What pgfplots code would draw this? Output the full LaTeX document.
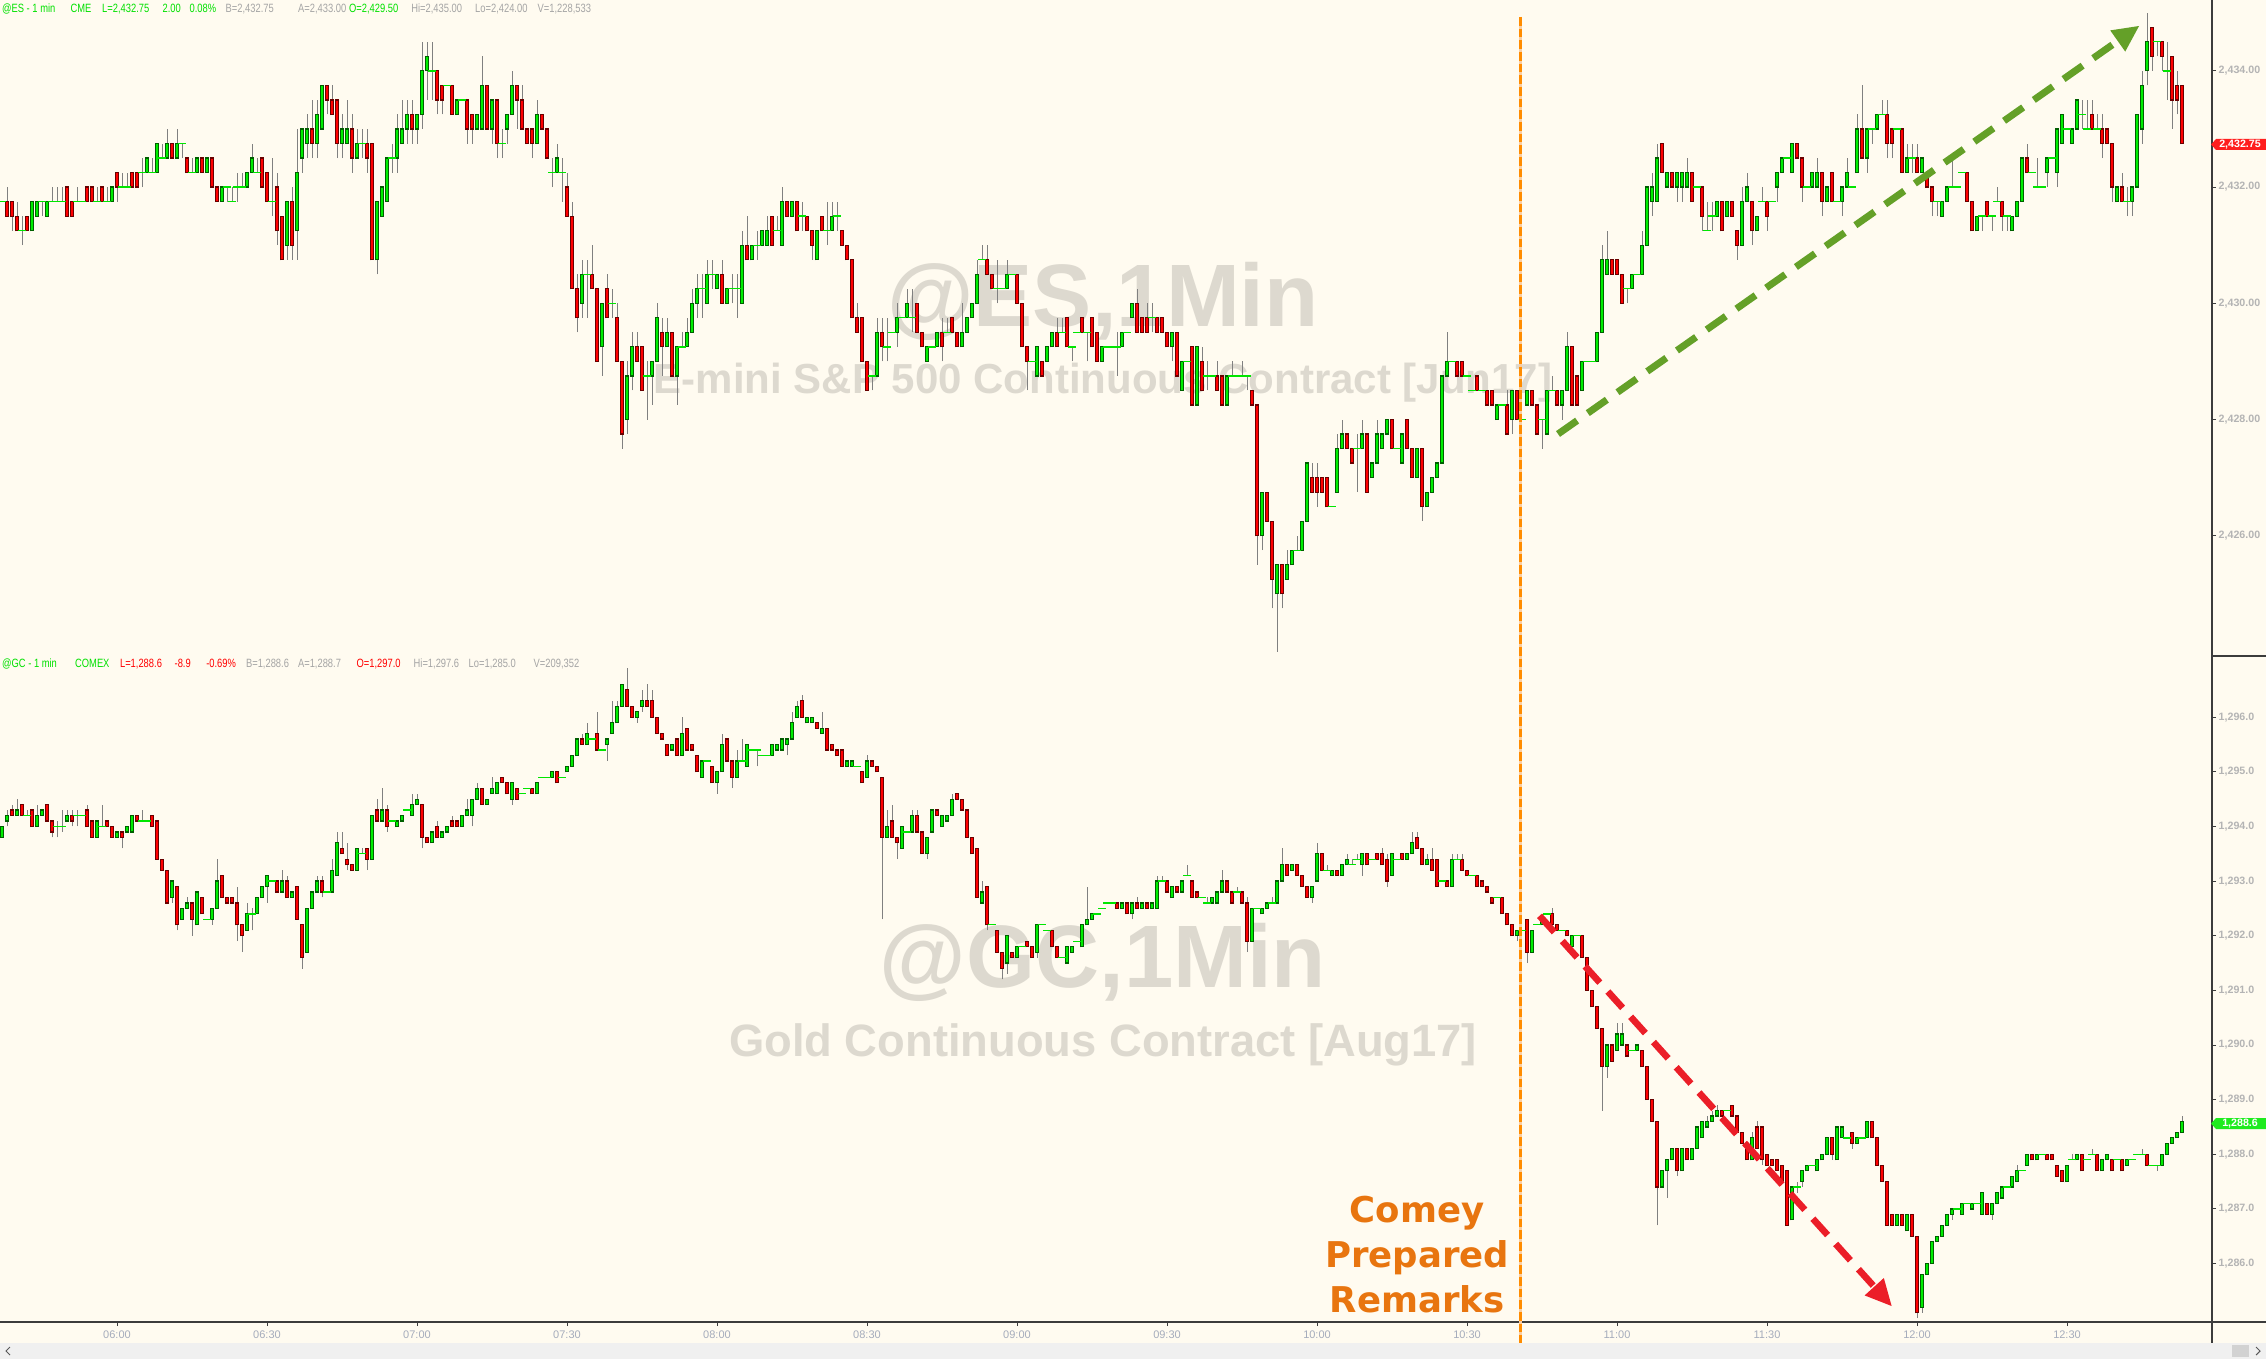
\documentclass[border=0pt]{standalone}
\usepackage{pgfplots}
\pgfplotsset{compat=1.18}
\usepackage{pgfplotstable}
\usepackage{fontspec}
\setmainfont{Liberation Sans}
\newfontfamily\djv{DejaVu Sans}
\definecolor{bg}{RGB}{255,251,240}
\definecolor{upf}{RGB}{0,238,0}
\definecolor{upe}{RGB}{0,95,0}
\definecolor{dnf}{RGB}{255,0,0}
\definecolor{dne}{RGB}{105,0,0}
\definecolor{wick}{RGB}{128,128,128}
\definecolor{doji}{RGB}{0,230,0}
\definecolor{wm}{RGB}{221,217,207}
\definecolor{hg}{RGB}{0,225,0}
\definecolor{hx}{RGB}{165,165,165}
\definecolor{hr}{RGB}{255,0,0}
\definecolor{axl}{RGB}{60,60,60}
\definecolor{tkl}{RGB}{165,172,188}
\definecolor{ytl}{RGB}{180,180,180}
\definecolor{comey}{RGB}{232,117,15}
\definecolor{vline}{RGB}{255,140,0}
\definecolor{vlight}{RGB}{250,205,160}
\definecolor{garrow}{RGB}{100,160,40}
\definecolor{rarrow}{RGB}{235,30,40}
\definecolor{pbr}{RGB}{255,30,30}
\definecolor{pbg}{RGB}{30,235,30}

\pgfplotstableread{
o h l c
2431.75 2431.75 2431.75 2431.75
2431.75 2432 2431.5 2431.5
2431.75 2431.75 2431.25 2431.5
2431.5 2431.75 2431.25 2431.25
2431.25 2431.5 2431 2431.25
2431.5 2431.5 2431.25 2431.25
2431.25 2431.75 2431.25 2431.75
2431.5 2431.75 2431.5 2431.75
2431.75 2431.75 2431.5 2431.75
2431.5 2431.75 2431.5 2431.75
2431.75 2432 2431.75 2431.75
2431.75 2432 2431.75 2431.75
2431.75 2432 2431.75 2431.75
2432 2432 2431.5 2431.5
2431.75 2431.75 2431.5 2431.5
2431.75 2432 2431.75 2431.75
2431.75 2431.75 2431.75 2431.75
2432 2432 2431.75 2431.75
2432 2432 2431.75 2431.75
2431.75 2432 2431.75 2431.75
2432 2432 2431.75 2431.75
2431.75 2432 2431.75 2431.75
2431.75 2432 2431.75 2432
2432.25 2432.25 2431.75 2432
2432 2432.25 2432 2432
2432 2432.25 2432 2432
2432.25 2432.25 2432 2432
2432.25 2432.25 2432 2432
2432.25 2432.5 2432 2432.25
2432.25 2432.5 2432.25 2432.5
2432.25 2432.5 2432.25 2432.25
2432.25 2432.75 2432.25 2432.75
2432.5 2432.75 2432.5 2432.5
2432.5 2433 2432.5 2432.75
2432.75 2432.75 2432.5 2432.5
2432.5 2433 2432.5 2432.75
2432.75 2432.75 2432.5 2432.75
2432.5 2432.5 2432.25 2432.25
2432.25 2432.5 2432.25 2432.25
2432.25 2432.5 2432.25 2432.5
2432.5 2432.5 2432.25 2432.25
2432.25 2432.5 2432.25 2432.5
2432.5 2432.5 2432 2432
2432 2432 2431.75 2431.75
2431.75 2432 2431.75 2432
2432 2432 2431.75 2432
2431.75 2432 2431.75 2431.75
2432 2432.25 2431.75 2432
2432 2432.25 2432 2432
2432 2432.25 2432 2432.25
2432.25 2432.75 2432.25 2432.5
2432.25 2432.5 2432.25 2432.25
2432.5 2432.5 2432 2432
2432.25 2432.25 2431.75 2431.75
2431.75 2432.5 2431.5 2431.75
2432 2432.25 2431 2431.25
2431.5 2431.5 2430.75 2430.75
2431 2431.75 2430.75 2431.75
2431.75 2432 2430.75 2431
2431.25 2433 2430.75 2432.25
2432.5 2433 2432.25 2433
2432.75 2433.25 2432.5 2433
2433 2433.5 2432.5 2432.75
2432.75 2433.5 2432.5 2433.25
2433 2433.75 2433 2433.75
2433.75 2433.75 2433.25 2433.5
2433.5 2433.75 2433.25 2433.25
2433.5 2433.5 2432.5 2432.75
2432.75 2433.25 2432.5 2433
2432.75 2433.5 2432.75 2433
2433 2433.25 2432.25 2432.5
2432.5 2433 2432.5 2432.75
2432.75 2433 2432.5 2432.75
2432.75 2433 2432.25 2432.5
2432.75 2432.75 2430.75 2430.75
2430.75 2431.75 2430.5 2431.75
2431.5 2432 2431.5 2432
2431.75 2432.5 2431.75 2432.5
2432.5 2432.75 2432.25 2432.5
2432.5 2433.25 2432.25 2433
2432.75 2433.5 2432.75 2433
2433 2433.5 2432.75 2433.25
2433.25 2433.5 2432.75 2433
2433 2433.25 2432.75 2433.25
2433.25 2434.5 2433 2434
2434 2434.5 2433.5 2434.25
2434 2434.5 2433.5 2434
2434 2434 2433.25 2433.5
2433.75 2433.75 2433.25 2433.5
2433.75 2433.75 2433.75 2433.75
2433.75 2433.75 2433.25 2433.25
2433.25 2433.5 2433.25 2433.5
2433.5 2433.5 2433.5 2433.5
2433.5 2433.5 2432.75 2433
2433.25 2433.25 2432.75 2433
2433 2433.25 2433 2433.25
2433 2434.25 2433 2433.75
2433.75 2433.75 2433 2433
2433 2433.5 2432.75 2433.5
2433.5 2433.5 2432.5 2432.75
2432.75 2433 2432.5 2432.75
2433 2433.25 2432.75 2433.25
2433.25 2434 2433.25 2433.75
2433.75 2433.75 2433 2433.5
2433.5 2433.75 2433 2433
2433 2433 2432.75 2432.75
2433 2433 2432.5 2432.75
2432.75 2433.5 2432.75 2433.25
2433.25 2433.25 2433 2433
2433 2433 2432.5 2432.5
2432.25 2432.5 2432 2432.25
2432.25 2432.75 2432.25 2432.5
2432.25 2432.5 2431.75 2432.25
2432 2432.25 2431.5 2431.5
2431.5 2431.75 2430.25 2430.25
2430.25 2430.5 2429.5 2429.75
2430 2430.75 2429.75 2430.5
2430.5 2430.75 2429.75 2430.5
2430.5 2431 2430.25 2430.25
2430.25 2430.25 2429 2429
2429.25 2430 2428.75 2430
2430.25 2430.5 2429.75 2429.75
2430 2430.25 2429.75 2430
2429.75 2430 2429 2429
2429 2429 2427.5 2427.75
2428 2429 2427.75 2428.75
2428.75 2429.5 2428.5 2429.25
2429.25 2429.5 2429 2429
2429.25 2429.25 2428.5 2428.5
2428.75 2429 2428 2428.75
2428.75 2429 2428.25 2429
2429 2430 2429 2429.75
2429.5 2429.75 2428.75 2429.25
2429.25 2429.75 2429.25 2429.5
2429.5 2429.5 2428.75 2428.75
2428.75 2429.25 2428.25 2429.25
2429.25 2429.5 2429.25 2429.25
2429.25 2429.75 2429.25 2429.5
2429.5 2430.25 2429.5 2430
2430 2430.5 2429.75 2430.25
2430.25 2430.5 2429.75 2430.25
2430 2430.75 2430 2430.5
2430.5 2430.75 2430.25 2430.5
2430.25 2430.5 2430.25 2430.5
2430.5 2430.75 2430 2430
2430 2430.25 2430 2430.25
2430.25 2430.5 2430 2430.25
2430.25 2430.5 2429.75 2430.25
2430 2431.25 2430 2431
2431 2431.5 2430.75 2430.75
2430.75 2431 2430.75 2431
2431 2431.25 2430.75 2431
2431 2431.25 2431 2431.25
2431 2431.5 2431 2431.25
2431.5 2431.5 2431 2431
2431.25 2431.5 2431.25 2431.25
2431 2432 2431 2431.75
2431.75 2431.75 2431.5 2431.5
2431.5 2431.75 2431.5 2431.75
2431.75 2431.75 2431.25 2431.25
2431.5 2431.75 2431.25 2431.5
2431.5 2431.5 2431.25 2431.25
2431.25 2431.25 2430.75 2431
2430.75 2431.25 2430.75 2431.25
2431.5 2431.5 2431.25 2431.25
2431.25 2431.75 2431 2431.25
2431.25 2431.75 2431.25 2431.5
2431.5 2431.75 2431.25 2431.5
2431.25 2431.25 2431 2431
2431 2431 2430.75 2430.75
2430.75 2430.75 2429.75 2429.75
2429.75 2430 2429.5 2429.5
2429.75 2429.75 2429 2429
2429 2429 2428.5 2428.5
2428.75 2428.75 2428.5 2428.75
2428.75 2429.75 2428.75 2429.5
2429.5 2429.75 2429 2429.25
2429.25 2429.75 2429 2429.25
2429.5 2429.5 2429.5 2429.5
2429.5 2430 2429.25 2429.75
2429.75 2429.75 2429.75 2429.75
2429.75 2430.25 2429.75 2430
2429.75 2430.25 2429.5 2429.75
2430 2430 2429.5 2429.5
2429.5 2429.5 2429.25 2429.25
2429 2429.25 2429 2429.25
2429.25 2429.25 2429.25 2429.25
2429.25 2429.5 2429.25 2429.5
2429.5 2429.75 2429 2429.25
2429.5 2429.75 2429.5 2429.5
2429.75 2429.75 2429.5 2429.5
2429.5 2429.5 2429.25 2429.25
2429.25 2430 2429.25 2429.5
2429.5 2429.75 2429.5 2429.75
2429.75 2430 2429.75 2430
2430 2430.75 2430 2430.5
2430.75 2431 2430.75 2430.75
2430.75 2431 2430.5 2430.5
2430.5 2430.5 2430.25 2430.25
2430.25 2430.75 2430 2430.25
2430.25 2430.25 2430.25 2430.25
2430.25 2430.75 2430.25 2430.5
2430.5 2430.5 2430.5 2430.5
2430.5 2430.5 2430 2430
2430 2430 2429.25 2429.25
2429.25 2429.25 2428.5 2429
2429 2429 2429 2429
2428.75 2429.25 2428.75 2429.25
2429 2429 2428.75 2428.75
2429 2429.25 2429 2429.25
2429.25 2429.5 2429.25 2429.5
2429.5 2429.75 2429.25 2429.25
2429.5 2429.75 2429.5 2429.5
2429.75 2429.75 2429.25 2429.25
2429.25 2429.25 2429 2429.25
2429.5 2429.5 2429.5 2429.5
2429.75 2429.75 2429.5 2429.5
2429.5 2429.5 2429 2429.5
2429.75 2429.75 2429.25 2429.25
2429.5 2429.5 2429 2429
2429 2429.25 2429 2429.25
2429.25 2429.25 2429.25 2429.25
2429.25 2429.25 2429.25 2429.25
2429.25 2429.5 2428.75 2429.25
2429.25 2429.5 2429.25 2429.5
2429.5 2429.5 2429.5 2429.5
2429.75 2430 2429.75 2430
2430 2430.25 2429.5 2429.5
2429.75 2429.75 2429.5 2429.5
2429.75 2430 2429.5 2429.5
2429.75 2430 2429.5 2429.75
2429.75 2429.75 2429.5 2429.5
2429.75 2429.75 2429.5 2429.5
2429.5 2429.5 2429.25 2429.25
2429.25 2429.5 2429 2429.5
2429.5 2429.5 2428.75 2428.75
2428.5 2429 2428.5 2429
2429 2429 2429 2429
2429.25 2429.25 2428.25 2428.25
2428.25 2429.25 2428.25 2429.25
2429 2429.25 2428.5 2428.5
2428.75 2429 2428.5 2428.75
2428.75 2428.75 2428.75 2428.75
2428.75 2429 2428.5 2428.5
2428.75 2428.75 2428.25 2428.25
2428.25 2428.75 2428.25 2428.75
2428.75 2429 2428.75 2428.75
2428.75 2428.75 2428.75 2428.75
2428.75 2429 2428.75 2428.75
2428.75 2428.75 2428.5 2428.75
2428.5 2428.5 2428.25 2428.25
2428.25 2428.25 2425.5 2426
2426 2426.75 2425.75 2426.75
2426.75 2426.75 2426.25 2426.25
2426.25 2426.25 2424.75 2425.25
2425 2425.5 2424 2425.5
2425.5 2425.5 2424.75 2425
2425.25 2425.75 2425.25 2425.5
2425.5 2425.75 2425.5 2425.75
2425.75 2426 2425.75 2425.75
2425.75 2426.25 2425.75 2426.25
2426.25 2427.25 2426.25 2427.25
2427 2427.25 2426.75 2426.75
2427 2427.25 2426.5 2426.75
2427 2427 2426.75 2426.75
2427 2427 2426.5 2426.5
2426.5 2426.5 2426.5 2426.5
2426.75 2427.75 2426.75 2427.5
2427.5 2428 2427.5 2427.75
2427.75 2427.75 2427.5 2427.5
2427.5 2427.5 2427.25 2427.25
2427.5 2427.75 2426.75 2427.5
2427.5 2428 2427.5 2427.75
2427.75 2427.75 2426.75 2426.75
2427 2427.25 2427 2427.25
2427.25 2428 2427.25 2427.75
2427.5 2427.75 2427.5 2427.75
2427.75 2428 2427.75 2428
2428 2428 2427.5 2427.5
2427.5 2427.5 2427.5 2427.5
2427.25 2427.75 2427.25 2427.75
2428 2428 2427.5 2427.5
2427.5 2427.5 2427 2427
2427 2427.5 2427 2427.5
2427.5 2427.5 2426.25 2426.5
2426.5 2426.75 2426.5 2426.75
2426.75 2427 2426.75 2427
2427 2427.25 2427 2427.25
2427.25 2428.75 2427.25 2428.75
2428.75 2429.5 2428.75 2429
2429 2429 2429 2429
2429 2429 2428.75 2428.75
2429 2429 2428.75 2428.75
2428.75 2428.75 2428.75 2428.75
2428.5 2428.5 2428.5 2428.5
2428.75 2428.75 2428.5 2428.5
2428.5 2428.5 2428.5 2428.5
2428.5 2428.5 2428.25 2428.25
2428.5 2428.5 2428.25 2428.25
2428 2428.25 2428 2428.25
2428.25 2428.25 2428.25 2428.25
2428.25 2428.5 2427.75 2427.75
2428 2428.5 2427.75 2428.5
2428.5 2428.5 2428 2428
2428 2428 2428 2428
2428.25 2428.5 2428.25 2428.5
2428.5 2428.5 2428.25 2428.25
2428.25 2428.25 2427.75 2427.75
2428 2428 2427.5 2428
2427.75 2428.5 2427.75 2428.5
2428.5 2428.75 2428.5 2428.5
2428.5 2428.5 2428.25 2428.25
2428.25 2428.5 2428 2428.5
2428.5 2429.5 2428.5 2429.25
2429.25 2429.25 2428.25 2428.25
2428.75 2428.75 2428.25 2428.25
2428.5 2429 2428.5 2429
2429 2429 2429 2429
2429 2429 2429 2429
2429 2429.5 2429 2429.5
2429.5 2431 2429.5 2430.75
2430.5 2431.25 2430.5 2430.75
2430.75 2430.75 2430.5 2430.5
2430.75 2430.75 2430.5 2430.5
2430.5 2430.5 2430 2430
2430.25 2430.25 2430 2430.25
2430.25 2430.5 2430.25 2430.5
2430.5 2430.5 2430.5 2430.5
2430.5 2431.25 2430.5 2431
2431 2432 2431 2432
2431.75 2432.25 2431.5 2432
2431.75 2432.75 2431.75 2432.5
2432.75 2432.75 2432.25 2432.25
2432 2432.25 2432 2432.25
2432.25 2432.25 2432 2432
2432 2432.25 2431.75 2432.25
2432 2432.25 2431.75 2432.25
2432 2432.5 2432 2432.25
2432.25 2432.25 2431.75 2431.75
2432 2432 2432 2432
2432 2432 2431.25 2431.5
2431.25 2431.75 2431.25 2431.25
2431.5 2431.75 2431.25 2431.5
2431.5 2431.75 2431.5 2431.75
2431.75 2431.75 2431.25 2431.25
2431.5 2431.75 2431.5 2431.75
2431.75 2431.75 2431.5 2431.5
2431.25 2431.25 2430.75 2431
2431 2432 2431 2431.75
2431.75 2432.25 2431.75 2432
2431.75 2431.75 2431 2431.25
2431.25 2431.5 2431.25 2431.5
2431.75 2432 2431.75 2431.75
2431.75 2431.75 2431.25 2431.5
2431.75 2431.75 2431.75 2431.75
2432 2432.25 2431.75 2432.25
2432.25 2432.5 2432.25 2432.5
2432.5 2432.5 2432.5 2432.5
2432.25 2432.75 2432.25 2432.75
2432.75 2432.75 2432.5 2432.5
2432.5 2432.5 2431.75 2432
2432 2432 2432 2432
2432 2432.25 2432 2432.25
2432 2432.5 2432 2432.25
2432.25 2432.25 2431.5 2431.75
2431.75 2432 2431.75 2432
2432.25 2432.25 2431.75 2431.75
2431.75 2431.75 2431.75 2431.75
2431.75 2432 2431.5 2432
2432 2432.5 2432 2432.25
2432 2432 2432 2432
2432.25 2433.25 2432.25 2433
2433 2433.75 2432.5 2432.5
2432.5 2433 2432.25 2433
2433 2433 2432.75 2433
2433 2433.25 2433 2433.25
2433.25 2433.5 2433.25 2433.25
2433.25 2433.5 2432.5 2432.75
2433 2433 2432.5 2432.75
2433 2433 2433 2433
2433 2433 2432.25 2432.25
2432.25 2432.75 2432.25 2432.5
2432.5 2432.75 2432.25 2432.5
2432.5 2432.75 2432.25 2432.25
2432.25 2432.5 2432.25 2432.5
2432.25 2432.25 2432 2432
2432 2432 2431.5 2431.75
2431.75 2431.75 2431.5 2431.75
2431.5 2431.75 2431.5 2431.75
2431.75 2432 2431.75 2432
2432 2432.5 2432 2432
2432 2432 2432 2432
2432.25 2432.25 2432.25 2432.25
2432.25 2432.25 2431.75 2431.75
2431.75 2431.75 2431.25 2431.25
2431.25 2431.5 2431.25 2431.5
2431.5 2431.5 2431.25 2431.5
2431.75 2431.75 2431.5 2431.5
2431.5 2431.5 2431.25 2431.5
2431.75 2432 2431.75 2431.75
2431.75 2431.75 2431.25 2431.5
2431.5 2431.5 2431.25 2431.5
2431.25 2431.5 2431.25 2431.5
2431.5 2431.75 2431.5 2431.75
2431.75 2432.5 2431.75 2432.5
2432.5 2432.75 2432.25 2432.25
2432.25 2432.25 2432.25 2432.25
2432 2432.5 2432 2432
2432 2432 2432 2432
2432.25 2432.5 2432 2432.5
2432.5 2432.5 2432.5 2432.5
2432.25 2433 2432 2433
2432.75 2433.25 2432.75 2433.25
2433 2433 2433 2433
2432.75 2433 2432.75 2433
2433 2433.5 2433 2433.5
2433.25 2433.5 2433 2433.25
2433 2433.5 2433 2433
2433.25 2433.5 2433 2433
2433 2433.25 2433 2433
2433 2433.25 2432.5 2432.75
2433 2433 2432.75 2432.75
2432.75 2432.75 2431.75 2432
2431.75 2432 2431.75 2432
2432 2432.25 2431.75 2431.75
2431.75 2432 2431.5 2431.75
2431.75 2432 2431.5 2432
2432 2433.25 2432 2433.25
2433 2434 2432.75 2433.75
2434 2435 2433.75 2434.5
2434.75 2434.75 2434 2434.25
2434.5 2434.5 2434.25 2434.5
2434.5 2434.5 2434 2434.25
2434 2434.5 2433.5 2434
2434.25 2434.25 2433 2433.5
2433.75 2434 2433.25 2433.5
2433.75 2433.75 2432.75 2432.75
}\esdata

\pgfplotstableread{
o h l c
1293.8 1294.0 1293.8 1294.0
1294.1 1294.3 1294.0 1294.2
1294.3 1294.4 1294.2 1294.2
1294.2 1294.5 1294.2 1294.3
1294.4 1294.4 1294.2 1294.2
1294.2 1294.3 1294.2 1294.2
1294.3 1294.3 1294.0 1294.0
1294.0 1294.4 1294.0 1294.2
1294.2 1294.3 1294.2 1294.3
1294.4 1294.4 1294.1 1294.1
1294.1 1294.1 1293.8 1293.9
1294.0 1294.1 1293.8 1294.0
1294.0 1294.3 1293.9 1294.0
1294.1 1294.3 1294.1 1294.2
1294.2 1294.3 1294.0 1294.1
1294.2 1294.3 1294.0 1294.2
1294.2 1294.2 1294.2 1294.2
1294.3 1294.4 1294.0 1294.0
1294.1 1294.1 1293.8 1293.8
1293.8 1294.1 1293.8 1294.1
1294.0 1294.4 1294.0 1294.0
1294.1 1294.1 1294.0 1294.0
1294.0 1294.0 1293.8 1293.8
1293.8 1293.9 1293.8 1293.9
1293.9 1293.9 1293.6 1293.8
1293.9 1294.0 1293.9 1294.0
1293.9 1294.2 1293.9 1294.2
1294.2 1294.2 1294.1 1294.1
1294.1 1294.3 1294.1 1294.1
1294.1 1294.1 1294.1 1294.1
1294.2 1294.2 1294.0 1294.0
1294.1 1294.1 1293.4 1293.4
1293.4 1293.4 1293.2 1293.2
1293.2 1293.2 1292.6 1292.6
1292.7 1293.0 1292.6 1293.0
1292.9 1292.9 1292.1 1292.2
1292.3 1292.5 1292.3 1292.5
1292.5 1292.7 1292.5 1292.6
1292.6 1292.6 1292.0 1292.3
1292.2 1292.8 1292.2 1292.8
1292.7 1292.7 1292.4 1292.4
1292.3 1292.3 1292.3 1292.3
1292.3 1292.5 1292.2 1292.5
1292.5 1293.4 1292.5 1293.0
1293.1 1293.1 1292.7 1292.7
1292.7 1292.7 1292.6 1292.6
1292.7 1292.7 1292.6 1292.6
1292.6 1292.9 1291.9 1292.2
1292.2 1292.2 1291.7 1292.0
1292.1 1292.6 1292.1 1292.4
1292.4 1292.5 1292.1 1292.4
1292.4 1292.7 1292.4 1292.7
1292.7 1292.9 1292.7 1292.9
1292.9 1293.1 1292.6 1293.1
1293.0 1293.0 1293.0 1293.0
1293.0 1293.0 1292.8 1292.8
1292.8 1293.2 1292.8 1293.0
1293.0 1293.1 1292.7 1292.7
1292.7 1292.8 1292.7 1292.8
1292.9 1292.9 1292.3 1292.3
1292.2 1292.2 1291.4 1291.6
1291.7 1292.5 1291.7 1292.5
1292.5 1292.8 1292.5 1292.8
1292.8 1293.1 1292.8 1293.0
1293.0 1293.1 1292.7 1292.8
1292.8 1292.8 1292.8 1292.8
1292.8 1293.4 1292.8 1293.2
1293.1 1293.9 1293.1 1293.7
1293.6 1293.9 1293.5 1293.5
1293.4 1293.7 1293.2 1293.3
1293.3 1293.3 1293.2 1293.2
1293.2 1293.6 1293.2 1293.6
1293.5 1293.6 1293.5 1293.5
1293.6 1293.6 1293.2 1293.4
1293.4 1294.2 1293.4 1294.2
1294.3 1294.5 1294.1 1294.1
1294.1 1294.7 1294.1 1294.3
1294.3 1294.4 1293.9 1294.0
1294.1 1294.1 1294.1 1294.1
1294.0 1294.1 1294.0 1294.1
1294.1 1294.2 1294.1 1294.2
1294.3 1294.3 1294.3 1294.3
1294.2 1294.6 1294.2 1294.4
1294.4 1294.6 1294.4 1294.5
1294.4 1294.4 1293.6 1293.8
1293.8 1293.8 1293.7 1293.7
1293.7 1293.9 1293.7 1293.9
1294.0 1294.1 1293.8 1293.8
1293.8 1293.9 1293.8 1293.9
1293.9 1294.0 1293.9 1294.0
1294.1 1294.2 1294.0 1294.0
1294.1 1294.1 1294.0 1294.0
1294.0 1294.2 1294.0 1294.2
1294.2 1294.5 1294.2 1294.3
1294.2 1294.5 1294.0 1294.5
1294.5 1294.8 1294.5 1294.7
1294.7 1294.7 1294.4 1294.4
1294.4 1294.5 1294.4 1294.5
1294.6 1294.9 1294.6 1294.7
1294.6 1294.8 1294.6 1294.8
1294.9 1294.9 1294.8 1294.8
1294.8 1294.8 1294.6 1294.6
1294.5 1294.8 1294.4 1294.8
1294.7 1294.7 1294.5 1294.5
1294.6 1294.6 1294.6 1294.6
1294.7 1294.7 1294.7 1294.7
1294.7 1294.7 1294.6 1294.6
1294.6 1294.8 1294.6 1294.8
1294.9 1294.9 1294.9 1294.9
1294.9 1294.9 1294.9 1294.9
1294.9 1295.0 1294.9 1295.0
1295.0 1295.0 1294.8 1294.8
1294.9 1294.9 1294.9 1294.9
1295.0 1295.1 1295.0 1295.1
1295.1 1295.3 1295.1 1295.3
1295.3 1295.6 1295.3 1295.6
1295.6 1295.7 1295.5 1295.5
1295.5 1295.9 1295.5 1295.7
1295.6 1295.6 1295.6 1295.6
1295.7 1296.1 1295.4 1295.4
1295.4 1295.4 1295.4 1295.4
1295.5 1295.6 1295.2 1295.6
1295.7 1296.3 1295.7 1295.9
1295.9 1296.3 1295.9 1296.2
1296.2 1296.6 1296.2 1296.6
1296.5 1296.9 1296.2 1296.2
1296.2 1296.2 1296.0 1296.0
1296.0 1296.1 1295.9 1296.1
1296.2 1296.5 1296.1 1296.3
1296.3 1296.6 1296.2 1296.2
1296.3 1296.5 1296.0 1296.0
1296.0 1296.0 1295.7 1295.7
1295.7 1295.7 1295.6 1295.6
1295.5 1295.5 1295.3 1295.3
1295.4 1295.5 1295.4 1295.5
1295.6 1295.6 1295.3 1295.3
1295.3 1296.0 1295.3 1295.7
1295.8 1295.8 1295.4 1295.4
1295.5 1295.5 1295.4 1295.4
1295.3 1295.3 1295.0 1295.0
1294.9 1295.2 1294.9 1295.2
1295.2 1295.2 1295.2 1295.2
1295.1 1295.1 1294.8 1294.8
1294.8 1295.0 1294.6 1295.0
1295.0 1295.7 1295.0 1295.5
1295.6 1295.6 1295.2 1295.2
1295.2 1295.2 1294.7 1294.9
1294.9 1295.4 1294.9 1295.2
1295.2 1295.6 1295.2 1295.2
1295.1 1295.5 1295.1 1295.5
1295.4 1295.4 1295.4 1295.4
1295.4 1295.4 1295.1 1295.4
1295.3 1295.3 1295.3 1295.3
1295.3 1295.3 1295.3 1295.3
1295.3 1295.5 1295.3 1295.5
1295.4 1295.5 1295.4 1295.5
1295.4 1295.6 1295.4 1295.6
1295.5 1295.6 1295.3 1295.6
1295.6 1296.1 1295.6 1295.9
1296.0 1296.3 1296.0 1296.2
1296.3 1296.4 1296.0 1296.0
1295.9 1296.0 1295.9 1296.0
1295.9 1296.0 1295.9 1296.0
1295.9 1295.9 1295.8 1295.8
1295.7 1296.1 1295.7 1295.8
1295.8 1295.8 1295.4 1295.4
1295.5 1295.5 1295.4 1295.4
1295.4 1295.4 1295.3 1295.3
1295.4 1295.4 1295.1 1295.1
1295.1 1295.2 1295.1 1295.2
1295.1 1295.2 1295.1 1295.2
1295.1 1295.1 1295.1 1295.1
1295.0 1295.0 1294.8 1294.8
1294.9 1295.3 1294.9 1295.2
1295.2 1295.2 1295.1 1295.1
1295.1 1295.1 1295.0 1295.0
1294.9 1294.9 1292.3 1293.8
1293.8 1294.3 1293.8 1294.0
1294.1 1294.4 1293.8 1293.8
1293.8 1293.8 1293.4 1293.7
1293.6 1294.0 1293.6 1294.0
1293.9 1293.9 1293.9 1293.9
1293.9 1294.3 1293.9 1294.2
1294.2 1294.3 1293.9 1293.9
1293.9 1293.9 1293.5 1293.5
1293.5 1293.8 1293.4 1293.8
1293.9 1294.3 1293.9 1294.3
1294.3 1294.3 1294.2 1294.2
1294.0 1294.2 1294.0 1294.2
1294.1 1294.2 1294.1 1294.2
1294.2 1294.6 1294.2 1294.5
1294.6 1294.6 1294.5 1294.5
1294.5 1294.5 1294.3 1294.3
1294.3 1294.3 1293.8 1293.8
1293.8 1293.8 1293.5 1293.5
1293.6 1293.6 1292.7 1292.7
1292.6 1293.0 1292.6 1292.8
1292.9 1292.9 1292.1 1292.2
1292.2 1292.2 1292.2 1292.2
1292.1 1292.1 1291.7 1291.7
1291.7 1291.7 1291.2 1291.4
1291.5 1292.0 1291.3 1292.0
1291.7 1291.7 1291.6 1291.6
1291.6 1291.8 1291.6 1291.8
1291.8 1291.8 1291.8 1291.8
1291.9 1291.9 1291.8 1291.8
1291.8 1291.8 1291.6 1291.6
1291.7 1292.2 1291.6 1292.2
1292.2 1292.2 1292.2 1292.2
1292.1 1292.1 1292.1 1292.1
1292.1 1292.1 1291.8 1291.8
1291.8 1291.8 1291.6 1291.6
1291.6 1291.6 1291.6 1291.6
1291.5 1291.8 1291.5 1291.8
1291.7 1291.8 1291.7 1291.8
1291.9 1291.9 1291.9 1291.9
1291.8 1292.2 1291.8 1292.2
1292.2 1292.9 1292.2 1292.3
1292.3 1292.4 1292.3 1292.4
1292.4 1292.4 1292.4 1292.4
1292.5 1292.5 1292.5 1292.5
1292.6 1292.6 1292.6 1292.6
1292.6 1292.6 1292.6 1292.6
1292.6 1292.6 1292.5 1292.5
1292.5 1292.6 1292.5 1292.6
1292.6 1292.6 1292.4 1292.4
1292.4 1292.6 1292.3 1292.6
1292.6 1292.7 1292.5 1292.5
1292.5 1292.6 1292.5 1292.6
1292.6 1292.6 1292.5 1292.5
1292.5 1292.6 1292.5 1292.6
1292.5 1293.1 1292.5 1293.0
1293.0 1293.1 1293.0 1293.0
1293.0 1293.0 1292.8 1292.8
1292.7 1292.9 1292.7 1292.9
1292.9 1292.9 1292.8 1292.8
1292.8 1293.0 1292.8 1293.0
1293.1 1293.3 1293.1 1293.1
1293.0 1293.0 1292.7 1292.7
1292.8 1292.8 1292.7 1292.7
1292.7 1292.7 1292.7 1292.7
1292.6 1292.7 1292.6 1292.6
1292.6 1292.7 1292.6 1292.7
1292.6 1292.8 1292.6 1292.8
1292.8 1293.2 1292.8 1293.0
1293.0 1293.0 1292.8 1292.8
1292.8 1292.8 1292.6 1292.6
1292.8 1292.9 1292.8 1292.8
1292.8 1292.8 1292.6 1292.6
1292.6 1292.7 1291.7 1291.9
1291.9 1292.5 1291.9 1292.5
1292.5 1292.5 1292.5 1292.5
1292.4 1292.5 1292.4 1292.5
1292.5 1292.6 1292.5 1292.6
1292.6 1292.7 1292.6 1292.6
1292.6 1293.0 1292.6 1293.0
1293.0 1293.6 1293.0 1293.3
1293.3 1293.3 1293.1 1293.1
1293.2 1293.3 1293.2 1293.3
1293.3 1293.3 1293.1 1293.1
1293.1 1293.1 1292.9 1292.9
1292.9 1292.9 1292.7 1292.7
1292.7 1292.9 1292.6 1292.9
1293.0 1293.7 1293.0 1293.5
1293.5 1293.5 1293.2 1293.2
1293.2 1293.3 1293.2 1293.2
1293.1 1293.2 1293.1 1293.2
1293.2 1293.2 1293.1 1293.1
1293.1 1293.3 1293.1 1293.3
1293.3 1293.5 1293.3 1293.4
1293.3 1293.4 1293.3 1293.3
1293.4 1293.5 1293.4 1293.4
1293.3 1293.5 1293.1 1293.5
1293.5 1293.5 1293.3 1293.3
1293.4 1293.4 1293.4 1293.4
1293.5 1293.5 1293.4 1293.4
1293.5 1293.6 1293.3 1293.3
1293.4 1293.5 1292.9 1293.0
1293.1 1293.5 1293.1 1293.5
1293.4 1293.4 1293.4 1293.4
1293.5 1293.5 1293.4 1293.4
1293.4 1293.5 1293.4 1293.5
1293.5 1293.9 1293.5 1293.7
1293.8 1293.9 1293.6 1293.6
1293.6 1293.6 1293.3 1293.3
1293.3 1293.5 1293.3 1293.4
1293.4 1293.6 1293.2 1293.2
1293.4 1293.4 1292.9 1292.9
1293.0 1293.0 1293.0 1293.0
1293.0 1293.0 1292.9 1292.9
1292.9 1293.5 1292.9 1293.4
1293.4 1293.5 1293.4 1293.4
1293.4 1293.5 1293.2 1293.2
1293.2 1293.2 1293.1 1293.1
1293.1 1293.1 1293.1 1293.1
1293.1 1293.1 1292.9 1292.9
1293.0 1293.0 1292.9 1292.9
1292.9 1292.9 1292.8 1292.8
1292.7 1292.7 1292.6 1292.6
1292.7 1292.7 1292.7 1292.7
1292.7 1292.7 1292.4 1292.4
1292.4 1292.4 1292.2 1292.2
1292.2 1292.2 1292.0 1292.0
1292.0 1292.1 1291.9 1292.1
1292.1 1292.1 1292.1 1292.1
1292.3 1292.3 1291.5 1291.7
1291.7 1292.1 1291.7 1292.1
1292.2 1292.2 1292.2 1292.2
1292.2 1292.4 1292.2 1292.3
1292.4 1292.4 1292.4 1292.4
1292.4 1292.5 1292.2 1292.2
1292.2 1292.2 1292.1 1292.1
1292.1 1292.1 1292.1 1292.1
1292.1 1292.1 1292.0 1292.0
1291.8 1292.0 1291.8 1292.0
1292.0 1292.0 1292.0 1292.0
1292.0 1292.0 1291.6 1291.6
1291.6 1291.6 1291.0 1291.0
1291.0 1291.0 1290.7 1290.7
1290.7 1290.7 1290.3 1290.3
1290.3 1290.3 1288.8 1289.6
1289.6 1290.0 1289.4 1290.0
1290.0 1290.0 1289.7 1289.7
1289.9 1290.4 1289.9 1290.2
1290.0 1290.4 1290.0 1290.2
1290.0 1290.0 1289.8 1289.8
1289.9 1289.9 1289.9 1289.9
1289.9 1290.0 1289.9 1290.0
1289.9 1289.9 1289.6 1289.6
1289.6 1289.6 1289.0 1289.0
1289.0 1289.0 1288.6 1288.6
1288.6 1288.6 1286.7 1287.4
1287.4 1287.7 1287.4 1287.7
1287.7 1287.9 1287.2 1287.9
1287.9 1288.1 1287.9 1288.1
1288.1 1288.1 1287.6 1287.7
1287.7 1288.1 1287.7 1288.1
1288.1 1288.1 1287.9 1287.9
1287.9 1288.1 1287.9 1288.1
1288.1 1288.5 1288.1 1288.5
1288.3 1288.6 1288.3 1288.6
1288.5 1288.7 1288.5 1288.6
1288.6 1288.8 1288.6 1288.7
1288.7 1288.9 1288.7 1288.8
1288.8 1288.8 1288.7 1288.7
1288.8 1288.8 1288.8 1288.8
1288.9 1288.9 1288.7 1288.7
1288.7 1288.7 1288.4 1288.4
1288.4 1288.4 1288.2 1288.2
1288.2 1288.2 1287.9 1287.9
1287.9 1288.4 1287.9 1288.3
1288.5 1288.6 1288.1 1288.1
1288.5 1288.5 1287.8 1287.9
1288.0 1288.0 1287.8 1287.8
1287.9 1287.9 1287.8 1287.8
1287.9 1287.9 1287.7 1287.7
1287.8 1287.8 1287.5 1287.5
1287.7 1287.7 1286.7 1286.7
1286.8 1287.4 1286.8 1287.4
1287.4 1287.5 1287.3 1287.4
1287.5 1287.7 1287.4 1287.7
1287.7 1287.8 1287.7 1287.8
1287.8 1287.8 1287.8 1287.8
1287.7 1287.9 1287.7 1287.9
1287.9 1288.0 1287.9 1288.0
1288.0 1288.3 1288.0 1288.3
1288.3 1288.3 1287.9 1288.0
1287.9 1288.5 1287.9 1288.5
1288.3 1288.5 1288.3 1288.5
1288.3 1288.3 1288.3 1288.3
1288.4 1288.4 1288.1 1288.2
1288.2 1288.3 1288.2 1288.3
1288.3 1288.3 1288.3 1288.3
1288.3 1288.6 1288.3 1288.6
1288.6 1288.6 1288.3 1288.3
1288.3 1288.3 1287.8 1287.8
1287.8 1287.8 1287.5 1287.5
1287.5 1287.5 1286.7 1286.7
1286.9 1286.9 1286.7 1286.7
1286.7 1286.9 1286.7 1286.9
1286.9 1286.9 1286.7 1286.7
1286.6 1286.9 1286.6 1286.9
1286.9 1286.9 1286.5 1286.5
1286.5 1286.5 1285.0 1285.1
1285.2 1285.8 1285.1 1285.8
1285.8 1286.0 1285.8 1286.0
1286.0 1286.4 1286.0 1286.4
1286.4 1286.5 1286.4 1286.5
1286.5 1286.7 1286.5 1286.7
1286.7 1286.9 1286.7 1286.9
1286.9 1287.0 1286.8 1287.0
1287.0 1287.0 1287.0 1287.0
1286.9 1287.1 1286.9 1287.1
1287.1 1287.1 1287.1 1287.1
1287.0 1287.1 1287.0 1287.1
1287.1 1287.1 1287.1 1287.1
1286.9 1287.3 1286.9 1287.3
1287.1 1287.1 1286.9 1286.9
1286.9 1287.1 1286.8 1287.1
1287.1 1287.3 1287.1 1287.3
1287.2 1287.4 1287.2 1287.4
1287.4 1287.4 1287.4 1287.4
1287.4 1287.6 1287.4 1287.6
1287.5 1287.8 1287.5 1287.7
1287.7 1287.7 1287.7 1287.7
1287.8 1288.0 1287.8 1288.0
1288.0 1288.0 1287.9 1287.9
1287.9 1288.0 1287.9 1288.0
1288.0 1288.0 1288.0 1288.0
1288.0 1288.0 1287.9 1287.9
1288.0 1288.0 1287.9 1287.9
1287.8 1287.8 1287.6 1287.6
1287.7 1287.7 1287.5 1287.5
1287.5 1287.8 1287.5 1287.8
1287.9 1288.0 1287.9 1287.9
1287.9 1288.0 1287.9 1288.0
1288.0 1288.0 1287.7 1287.7
1287.9 1287.9 1287.9 1287.9
1288.0 1288.1 1288.0 1288.0
1288.0 1288.0 1287.7 1287.7
1287.7 1287.9 1287.7 1287.9
1287.9 1288.0 1287.9 1288.0
1287.9 1287.9 1287.7 1287.7
1287.9 1287.9 1287.9 1287.9
1287.9 1287.9 1287.7 1287.7
1287.8 1287.9 1287.8 1287.9
1287.9 1287.9 1287.9 1287.9
1288.0 1288.0 1288.0 1288.0
1288.0 1288.1 1288.0 1288.0
1288.0 1288.0 1287.8 1287.8
1287.8 1287.8 1287.8 1287.8
1287.8 1287.8 1287.7 1287.8
1287.8 1288.0 1287.8 1288.0
1288.0 1288.2 1288.0 1288.2
1288.2 1288.3 1288.2 1288.3
1288.3 1288.4 1288.3 1288.4
1288.4 1288.7 1288.4 1288.6
}\gcdata

% Build one jump-separated path per candle layer from an OHLC table
\newcommand\buildpaths[2]{% #1 table, #2 outline inset in price units
  \gdef\wickpath{}\gdef\upout{}\gdef\upin{}\gdef\dnout{}\gdef\dnin{}\gdef\dojipath{}%
  \pgfplotstablegetrowsof{#1}%
  \pgfmathtruncatemacro\nlast{\pgfplotsretval-1}%
  \foreach \i in {0,...,\nlast}{%
    \pgfplotstablegetelem{\i}{o}\of{#1}\let\vo\pgfplotsretval
    \pgfplotstablegetelem{\i}{h}\of{#1}\let\vh\pgfplotsretval
    \pgfplotstablegetelem{\i}{l}\of{#1}\let\vl\pgfplotsretval
    \pgfplotstablegetelem{\i}{c}\of{#1}\let\vc\pgfplotsretval
    \pgfmathtruncatemacro\xx{\i-23}%
    \xdef\wickpath{\wickpath(\xx,\vl)(\xx,\vh)(\xx,nan)}%
    \ifdim\vc pt>\vo pt
      \pgfmathsetmacro\ya{\vo-#2}\pgfmathsetmacro\yb{\vc+#2}%
      \pgfmathsetmacro\yc{\vo+#2}\pgfmathsetmacro\yd{\vc-#2}%
      \xdef\upout{\upout(\xx,\ya)(\xx,\yb)(\xx,nan)}%
      \xdef\upin{\upin(\xx,\yc)(\xx,\yd)(\xx,nan)}%
    \else
      \ifdim\vc pt<\vo pt
        \pgfmathsetmacro\ya{\vc-#2}\pgfmathsetmacro\yb{\vo+#2}%
        \pgfmathsetmacro\yc{\vc+#2}\pgfmathsetmacro\yd{\vo-#2}%
        \xdef\dnout{\dnout(\xx,\ya)(\xx,\yb)(\xx,nan)}%
        \xdef\dnin{\dnin(\xx,\yc)(\xx,\yd)(\xx,nan)}%
      \else
        \pgfmathsetmacro\xa{\xx-0.75}\pgfmathsetmacro\xb{\xx+0.75}%
        \xdef\dojipath{\dojipath(\xa,\vc)(\xb,\vc)(\xa,nan)}%
      \fi
    \fi
  }%
}
\newcommand\drawcandles{%
  \edef\tmp{\noexpand\addplot[draw=wick, line width=0.3pt, mark=none, unbounded coords=jump] coordinates {\wickpath};}\tmp
  \edef\tmp{\noexpand\addplot[draw=upe, line width=1.32pt, mark=none, unbounded coords=jump] coordinates {\upout};}\tmp
  \edef\tmp{\noexpand\addplot[draw=dne, line width=1.32pt, mark=none, unbounded coords=jump] coordinates {\dnout};}\tmp
  \edef\tmp{\noexpand\addplot[draw=upf, line width=0.72pt, mark=none, unbounded coords=jump] coordinates {\upin};}\tmp
  \edef\tmp{\noexpand\addplot[draw=dnf, line width=0.72pt, mark=none, unbounded coords=jump] coordinates {\dnin};}\tmp
  \edef\tmp{\noexpand\addplot[draw=doji, line width=0.4pt, mark=none, unbounded coords=jump] coordinates {\dojipath};}\tmp
}

\pgfplotsset{
  panelbase/.style={scale only axis, width=663.6pt, xmin=-23.4, xmax=419, anchor=north west,
    axis y line*=right, axis line style={draw=axl, line width=0.4pt},
    tick align=outside, major tick length=1.2pt, tick style={draw=axl, line width=0.3pt},
    yticklabel style={font=\fontsize{3.2pt}{3.6pt}\selectfont\bfseries, text=ytl, anchor=west, inner sep=0pt, xshift=0.6pt}},
}
\newcommand\hdr[1]{\scalebox{0.78}[1]{#1}}

\begin{document}
\begin{tikzpicture}
\path[use as bounding box] (0pt,0pt) rectangle (679.8pt,407.7pt);
\fill[bg] (0pt,0pt) rectangle (679.8pt,407.7pt);
\begin{scope}[shift={(0pt,407.7pt)}, x=0.3pt, y=-0.3pt]
  \node[anchor=base, inner sep=0pt, text=wm, font=\fontsize{26.6pt}{28pt}\selectfont\bfseries] at (1103,326) {@ES,1Min};
  \node[anchor=base, inner sep=0pt, text=wm, font=\fontsize{12.6pt}{14pt}\selectfont\bfseries] at (1103,393) {E-mini S\&P 500 Continuous Contract [Jun17]};
  \node[anchor=base, inner sep=0pt, text=wm, font=\fontsize{26.6pt}{28pt}\selectfont\bfseries] at (1103,987) {@GC,1Min};
  \node[anchor=base, inner sep=0pt, text=wm, font=\fontsize{13.6pt}{15pt}\selectfont\bfseries] at (1103,1056) {Gold Continuous Contract [Aug17]};
\end{scope}

\buildpaths{\esdata}{0.0103}
\begin{axis}[panelbase, at={(0pt,407.7pt)}, height=196.8pt, ymin=2423.93, ymax=2435.22,
  axis x line=none, xtick=\empty, ytick pos=right,
  ytick={2426,2428,2430,2432,2434},
  yticklabels={{2,426.00},{2,428.00},{2,430.00},{2,432.00},{2,434.00}}]
\drawcandles
\end{axis}

\buildpaths{\gcdata}{0.011}
\begin{axis}[panelbase, at={(0pt,210.9pt)}, height=199.8pt, ymin=1284.93, ymax=1297.12,
  axis x line*=bottom,
  xtick={0,30,...,390},
  xticklabels={06:00,06:30,07:00,07:30,08:00,08:30,09:00,09:30,10:00,10:30,11:00,11:30,12:00,12:30},
  xticklabel style={font=\fontsize{3.3pt}{3.8pt}\selectfont, text=tkl, anchor=north, inner sep=0pt, yshift=-1.2pt},
  ytick={1286,1287,...,1296},
  yticklabels={{1,286.0},{1,287.0},{1,288.0},{1,289.0},{1,290.0},{1,291.0},{1,292.0},{1,293.0},{1,294.0},{1,295.0},{1,296.0}}]
\drawcandles
\end{axis}

\begin{scope}[shift={(0pt,407.7pt)}, x=0.3pt, y=-0.3pt]
  \draw[axl, line width=0.4pt] (2212,656) -- (2266,656);
  \draw[axl, line width=0.4pt] (2212,1322) -- (2266,1322);
  \draw[axl, line width=0.4pt] (2212,1322) -- (2212,1343);
  \fill[gray!12] (0,1343) rectangle (2266,1359);
  \fill[gray!35] (2232,1345) rectangle (2249,1357);
  \draw[gray!70!black, line width=0.3pt] (10,1347) -- (6,1351) -- (10,1355);
  \draw[gray!70!black, line width=0.3pt] (2256,1347) -- (2260,1351) -- (2256,1355);
  \begin{scope}[every node/.style={anchor=base west, inner sep=0pt, font=\fontsize{3.6pt}{4.2pt}\selectfont}]
    \node[text=hg] at (1.5,12.5) {\hdr{@ES - 1 min}};
    \node[text=hg] at (70,12.5) {\hdr{CME}};
    \node[text=hg] at (101.5,12.5) {\hdr{L=2,432.75}};
    \node[text=hg] at (162,12.5) {\hdr{2.00}};
    \node[text=hg] at (189,12.5) {\hdr{0.08\%}};
    \node[text=hx] at (225,12.5) {\hdr{B=2,432.75}};
    \node[text=hx] at (297.5,12.5) {\hdr{A=2,433.00}};
    \node[text=hg] at (348.5,12.5) {\hdr{O=2,429.50}};
    \node[text=hx] at (410.7,12.5) {\hdr{Hi=2,435.00}};
    \node[text=hx] at (474.5,12.5) {\hdr{Lo=2,424.00}};
    \node[text=hx] at (537,12.5) {\hdr{V=1,228,533}};
    \node[text=hg] at (1.5,667) {\hdr{@GC - 1 min}};
    \node[text=hg] at (74.5,667) {\hdr{COMEX}};
    \node[text=hr] at (119.4,667) {\hdr{L=1,288.6}};
    \node[text=hr] at (174,667) {\hdr{-8.9}};
    \node[text=hr] at (205.6,667) {\hdr{-0.69\%}};
    \node[text=hx] at (245.4,667) {\hdr{B=1,288.6}};
    \node[text=hx] at (297.4,667) {\hdr{A=1,288.7}};
    \node[text=hr] at (356,667) {\hdr{O=1,297.0}};
    \node[text=hx] at (413,667) {\hdr{Hi=1,297.6}};
    \node[text=hx] at (468,667) {\hdr{Lo=1,285.0}};
    \node[text=hx] at (533,667) {\hdr{V=209,352}};
  \end{scope}
  \fill[pbr] (2211,144.5) -- (2216,139) -- (2266,139) -- (2266,150) -- (2216,150) -- cycle;
  \node[text=white, inner sep=0pt, font=\fontsize{3.2pt}{4pt}\selectfont\bfseries] at (2240,144.5) {2,432.75};
  \fill[pbg] (2211,1123.5) -- (2216,1118) -- (2266,1118) -- (2266,1129) -- (2216,1129) -- cycle;
  \node[text=white, inner sep=0pt, font=\fontsize{3.2pt}{4pt}\selectfont\bfseries] at (2240,1123.5) {1,288.6};
  \draw[vlight, line width=0.9pt] (1520,17) -- (1520,1343);
  \draw[vline, line width=0.9pt, dash pattern=on 2.6pt off 0.9pt] (1520,17) -- (1520,1343);
  \draw[garrow, line width=2.1pt, dash pattern=on 7pt off 3.9pt] (1558,434) -- (2117.7,41);
  \fill[garrow] (2139,26) -- (2125.2,51.6) -- (2110.2,30.4) -- cycle;
  \draw[rarrow, line width=2.0pt, dash pattern=on 6.6pt off 3.6pt] (1539.5,915.8) -- (1874.2,1286.7);
  \fill[rarrow] (1891.6,1306) -- (1883.8,1278) -- (1864.6,1295.4) -- cycle;
  \begin{scope}[every node/.style={anchor=base, inner sep=0pt, text=comey, font=\djv\fontsize{10.65pt}{12pt}\selectfont\bfseries}]
    \node at (1417,1222.6) {Comey};
    \node at (1417,1267.5) {Prepared};
    \node at (1417,1312.4) {Remarks};
  \end{scope}
\end{scope}
\end{tikzpicture}
\end{document}
